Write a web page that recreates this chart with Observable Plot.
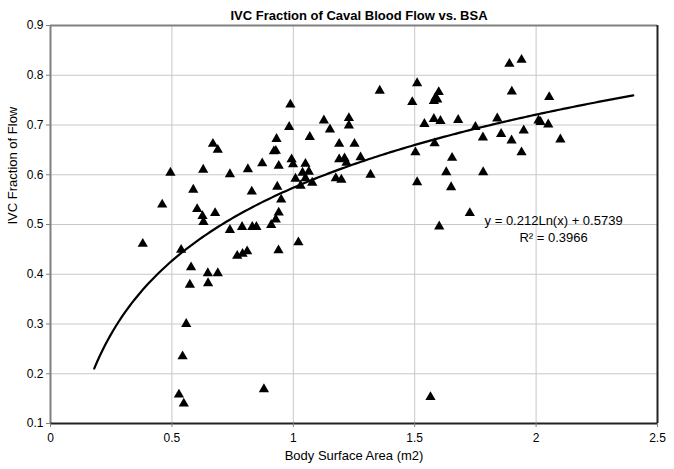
<!DOCTYPE html>
<html>
<head>
<meta charset="utf-8">
<script src="https://cdn.jsdelivr.net/npm/d3@7"></script>
<script src="https://cdn.jsdelivr.net/npm/@observablehq/plot@0.6"></script>
<style>
  html, body { margin: 0; padding: 0; background: #fff; }
  #chart svg { display: block; }
</style>
</head>
<body>
<div id="chart"></div>
<script>
// Body surface area (m2) of each subject
const bsa = [
  0.380, 0.460, 0.494, 0.529, 0.538, 0.544, 0.549, 0.559, 0.574, 0.579,
  0.588, 0.604, 0.626, 0.629, 0.630, 0.648, 0.649, 0.669, 0.678, 0.689,
  0.689, 0.739, 0.739, 0.769, 0.789, 0.791, 0.810, 0.813, 0.829, 0.831,
  0.848, 0.872, 0.879, 0.909, 0.920, 0.928, 0.928, 0.931, 0.934, 0.939,
  0.940, 0.940, 0.950, 0.983, 0.988, 0.993, 0.999, 1.009, 1.021, 1.030,
  1.038, 1.050, 1.050, 1.064, 1.068, 1.078, 1.126, 1.151, 1.175, 1.189,
  1.189, 1.198, 1.211, 1.219, 1.229, 1.229, 1.252, 1.277, 1.318, 1.356,
  1.490, 1.503, 1.510, 1.510, 1.540, 1.565, 1.579, 1.579, 1.582, 1.586,
  1.593, 1.599, 1.601, 1.606, 1.630, 1.650, 1.654, 1.679, 1.727, 1.750,
  1.781, 1.782, 1.840, 1.856, 1.890, 1.899, 1.900, 1.940, 1.940, 1.949,
  2.010, 2.018, 2.050, 2.054, 2.100
];
// IVC fraction of caval blood flow
const ivcFraction = [
  0.461, 0.540, 0.604, 0.158, 0.449, 0.235, 0.140, 0.300, 0.379, 0.414,
  0.570, 0.531, 0.517, 0.610, 0.505, 0.402, 0.382, 0.662, 0.523, 0.650,
  0.402, 0.601, 0.489, 0.437, 0.495, 0.441, 0.446, 0.611, 0.566, 0.495,
  0.495, 0.623, 0.169, 0.499, 0.647, 0.648, 0.510, 0.672, 0.576, 0.448,
  0.524, 0.618, 0.550, 0.696, 0.741, 0.631, 0.621, 0.592, 0.464, 0.578,
  0.604, 0.593, 0.622, 0.606, 0.676, 0.584, 0.709, 0.691, 0.593, 0.662,
  0.631, 0.590, 0.633, 0.624, 0.714, 0.699, 0.662, 0.635, 0.600, 0.769,
  0.746, 0.645, 0.784, 0.585, 0.702, 0.153, 0.748, 0.712, 0.663, 0.755,
  0.751, 0.766, 0.496, 0.708, 0.605, 0.575, 0.634, 0.710, 0.523, 0.696,
  0.675, 0.605, 0.713, 0.682, 0.823, 0.669, 0.767, 0.831, 0.645, 0.689,
  0.709, 0.706, 0.701, 0.756, 0.671
];
// Logarithmic trend line reported on the chart
const trendSlope = 0.212;
const trendIntercept = 0.5739;
const trendXRange = [0.18, 2.4];
const equationText = "y = 0.212Ln(x) + 0.5739";
const r2Text = "R\u00B2 = 0.3966";
// Axis ticks and labels
const xTicks = [0, 0.5, 1, 1.5, 2, 2.5];
const xTickLabels = ["0", "0.5", "1", "1.5", "2", "2.5"];
const yTicks = [0.1, 0.2, 0.3, 0.4, 0.5, 0.6, 0.7, 0.8, 0.9];
const yTickLabels = ["0.1", "0.2", "0.3", "0.4", "0.5", "0.6", "0.7", "0.8", "0.9"];
const titleText = "IVC Fraction of Caval Blood Flow vs. BSA";
const xLabel = "Body Surface Area (m2)";
const yLabel = "IVC Fraction of Flow";

const points = bsa.map((x, i) => ({x, y: ivcFraction[i]}));
const trend = d3.range(0, 201).map(i => {
  const x = trendXRange[0] + (trendXRange[1] - trendXRange[0]) * i / 200;
  return {x, y: trendSlope * Math.log(x) + trendIntercept};
});
const xFmt = d => xTickLabels[xTicks.indexOf(d)];
const yFmt = d => yTickLabels[yTicks.findIndex(t => Math.abs(t - d) < 1e-9)];

const font = "'Liberation Sans Narrow', 'Arial Narrow', 'Liberation Sans', Arial, sans-serif";

const chart = Plot.plot({
  width: 674,
  height: 469,
  marginLeft: 50,
  marginRight: 17,
  marginTop: 25,
  marginBottom: 46,
  style: {fontFamily: font, fontSize: "11px", color: "#000", background: "#fff"},
  x: {domain: [0, 2.5]},
  y: {domain: [0.1, 0.9]},
  marks: [
    Plot.gridX(xTicks.slice(1, -1), {stroke: "#c8c8c8", strokeOpacity: 1}),
    Plot.gridY(yTicks.slice(1, -1), {stroke: "#c8c8c8", strokeOpacity: 1}),
    Plot.ruleY([0.9], {stroke: "#808080", strokeWidth: 2}),
    Plot.ruleX([0], {stroke: "#808080", strokeWidth: 2}),
    Plot.ruleX([2.5], {stroke: "#222", strokeWidth: 2}),
    Plot.ruleY([0.1], {stroke: "#222", strokeWidth: 2}),
    Plot.axisX(xTicks, {tickSize: 4, tickPadding: 6, label: null, fontSize: 12, stroke: "#808080", tickFormat: xFmt}),
    Plot.axisY(yTicks, {tickSize: 4, tickPadding: 3, label: null, fontSize: 12, stroke: "#808080", tickFormat: yFmt}),
    Plot.dot(points, {x: "x", y: "y", symbol: "triangle", r: 3.8, fill: "#000", stroke: "none"}),
    Plot.line(trend, {x: "x", y: "y", stroke: "#000", strokeWidth: 2.2, curve: "linear"}),
    Plot.text([equationText], {x: 2.072, y: 0.508, text: d => d, fontSize: 13, fill: "#000"}),
    Plot.text([r2Text], {x: 2.072, y: 0.474, text: d => d, fontSize: 13, fill: "#000"}),
    Plot.text([titleText], {frameAnchor: "top", dx: 5, dy: -15, text: d => d, fontSize: 13, fontWeight: "bold", fill: "#000"}),
    Plot.text([xLabel], {frameAnchor: "bottom", dy: 36, text: d => d, fontSize: 13, fill: "#000"}),
    Plot.text([yLabel], {frameAnchor: "left", dx: -38, rotate: -90, text: d => d, fontSize: 13, fill: "#000"})
  ]
});
document.getElementById("chart").appendChild(chart);
</script>
</body>
</html>
